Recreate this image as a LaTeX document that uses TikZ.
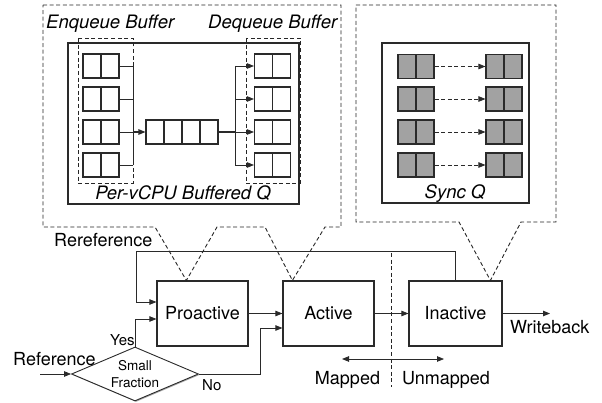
\documentclass[tikz,border=0pt]{standalone}
\usepackage{fontspec}
\setmainfont{TeX Gyre Heros}
\usetikzlibrary{arrows.meta,shapes.geometric,shadows,calc}
\definecolor{ink}{HTML}{2A2A2A}
\definecolor{cellgray}{HTML}{A2A2A2}
\tikzset{
  soft/.style={drop shadow={shadow xshift=1.3pt,shadow yshift=-1.3pt,opacity=0.35,fill=black}},
  panel/.style={draw=ink,line width=1.1pt,fill=white,soft},
  statebox/.style={draw=ink,line width=1.2pt,fill=white,minimum width=92pt,minimum height=65pt,
    inner sep=0pt,font=\fontsize{18}{20}\selectfont,soft},
  pair/.style={draw=ink,line width=1.1pt,fill=white,minimum width=36pt,minimum height=24pt,inner sep=0pt,
    drop shadow={shadow xshift=0.8pt,shadow yshift=-0.8pt,opacity=0.3,fill=black},
    path picture={\draw[ink,line width=1.1pt] (path picture bounding box.north) -- (path picture bounding box.south);}},
  graypair/.style={pair,fill=cellgray},
  fourcell/.style={draw=ink,line width=1.1pt,fill=white,minimum width=72pt,minimum height=24pt,inner sep=0pt,
    drop shadow={shadow xshift=0.8pt,shadow yshift=-0.8pt,opacity=0.3,fill=black},
    path picture={\foreach \k in {1,2,3}{\draw[ink,line width=1.1pt]
      ($(path picture bounding box.north west)!\k/4!(path picture bounding box.north east)$) --
      ($(path picture bounding box.south west)!\k/4!(path picture bounding box.south east)$);}}},
  flow/.style={draw=ink,line width=0.8pt,-{Triangle[length=7pt,width=5.5pt]}},
  wire/.style={draw=ink,line width=0.8pt},
  callout/.style={draw=black!85,line width=0.9pt,dash pattern=on 4pt off 2.6pt},
  groupbox/.style={draw=black!85,line width=0.9pt,dash pattern=on 4pt off 2.6pt},
  label/.style={font=\fontsize{18}{20}\selectfont,inner sep=0pt},
  caption/.style={font=\fontsize{18.5}{20}\selectfont\itshape,inner sep=0pt},
  small/.style={font=\fontsize{15}{17}\selectfont,inner sep=0pt},
}
\begin{document}
\begin{tikzpicture}[x=1pt,y=-1pt]
\useasboundingbox (0,0) rectangle (602,403);

% ---------- state boxes ----------
\node[statebox,minimum width=91pt] (pro) at (202.5,313.5) {Proactive};
\node[statebox,minimum width=91pt] (act) at (328.5,313.5) {Active};
\node[statebox,minimum width=93pt] (ina) at (455.5,313.5) {Inactive};

% ---------- callout outlines ----------
\draw[callout] (43,5) -- (341,5) -- (341,227) -- (325,227)
  -- ($(act.north west)+(10,0)$) -- (265,227) -- (217,227)
  -- ($(pro.north west)+(30,0)$) -- (155,227) -- (43,227) -- cycle;
\draw[callout] (356,5) -- (556,5) -- (556,222) -- (521,222)
  -- ($(ina.north west)+(82,0)$) -- (459,222) -- (356,222) -- cycle;

% ---------- per-vCPU buffered queue ----------
\node[panel,minimum width=231pt,minimum height=161pt,inner sep=0pt] (bq) at (183.5,123.5) {};
\foreach \i/\y in {1/66,2/99,3/132,4/165}{
  \node[pair] (e\i) at (101,\y) {};
  \node[pair] (d\i) at (272.5,\y) {};
}
\node[fourcell] (q) at (182,132) {};
\draw[groupbox] (78,38) rectangle (133,183);
\draw[groupbox] (246,38) rectangle (300,183);
\coordinate (mx) at (133,132);
\coordinate (sx) at (235,132);
\foreach \i in {1,2,3,4}{
  \draw[wire] (e\i.east) -- (e\i.east -| mx);
  \draw[flow] (d\i.west -| sx) -- (d\i.west);
}
\draw[wire] (e1.east -| mx) -- (e4.east -| mx);
\draw[flow,line width=1.1pt] (mx) -- (q.west);
\draw[wire,line width=1.1pt] (q.east) -- (sx);
\draw[wire] (d1.west -| sx) -- (d4.west -| sx);
\node[caption,anchor=base west] (enqlbl) at (46,29) {Enqueue Buffer};
\node[caption,anchor=base west] (deqlbl) at (208,29) {Dequeue Buffer};
\node[caption,anchor=base] (bqlbl) at (183,200) {Per-vCPU Buffered Q};

% ---------- sync queue ----------
\node[panel,minimum width=147pt,minimum height=160pt,inner sep=0pt] (sq) at (455.5,123) {};
\foreach \i/\y in {1/66.5,2/99,3/132,4/165}{
  \node[graypair] (s\i) at (416,\y) {};
  \node[graypair] (t\i) at (504,\y) {};
  \draw[flow,dash pattern=on 4pt off 2.6pt] (s\i) -- (t\i);
}
\node[caption,anchor=base] (sqlbl) at (455,199) {Sync Q};

% ---------- decision ----------
\node[diamond,draw=ink,line width=0.9pt,fill=white,aspect=2.35,inner sep=0pt,
  minimum width=127pt,minimum height=54pt,align=center,
  font=\fontsize{13.5}{17}\selectfont,
  drop shadow={shadow xshift=1pt,shadow yshift=-1pt,opacity=0.35,fill=black}]
  (dec) at (135,374) {Small\\Fraction};

% ---------- flow arrows ----------
\coordinate (refin) at (40,374);
\coordinate (wbout) at (550,313.5);
\draw[flow] (refin) -- (dec.west);
\draw[flow] (dec.north) |- ($(pro.west)+(0,5.5)$);
\draw[flow] (dec.east) -| ($(act.west)+(-22,14.5)$) -- ($(act.west)+(0,14.5)$);
\draw[flow] (pro) -- (act);
\draw[flow] (act) -- (ina);
\draw[flow] (ina) -- (wbout);
\draw[flow] (ina.north) |- (136,251) |- ($(pro.west)+(0,-11.5)$);

% ---------- mapped / unmapped split ----------
\coordinate (splittop) at (391,253);
\coordinate (splitbot) at (391,387);
\draw[callout] (splittop) -- (splitbot);
\coordinate (ml) at (342,359);
\coordinate (mr) at (444,359);
\draw[ink,line width=0.8pt,{Triangle[length=7pt,width=5.5pt]}-{Triangle[length=7pt,width=5.5pt]}] (ml) -- (mr);

% ---------- labels ----------
\node[label,anchor=base west] (rerefl) at (54,247) {Rereference};
\node[label,anchor=base west] (refl) at (13,365) {Reference};
\node[small,anchor=base west] (yesl) at (110,345) {Yes};
\node[small,anchor=base west] (nol) at (202,390) {No};
\node[label,anchor=base west] (wbl) at (510,333) {Writeback};
\node[label,anchor=base] (mapl) at (347.5,384) {Mapped};
\node[label,anchor=base] (unmapl) at (446,384) {Unmapped};
\end{tikzpicture}
\end{document}
